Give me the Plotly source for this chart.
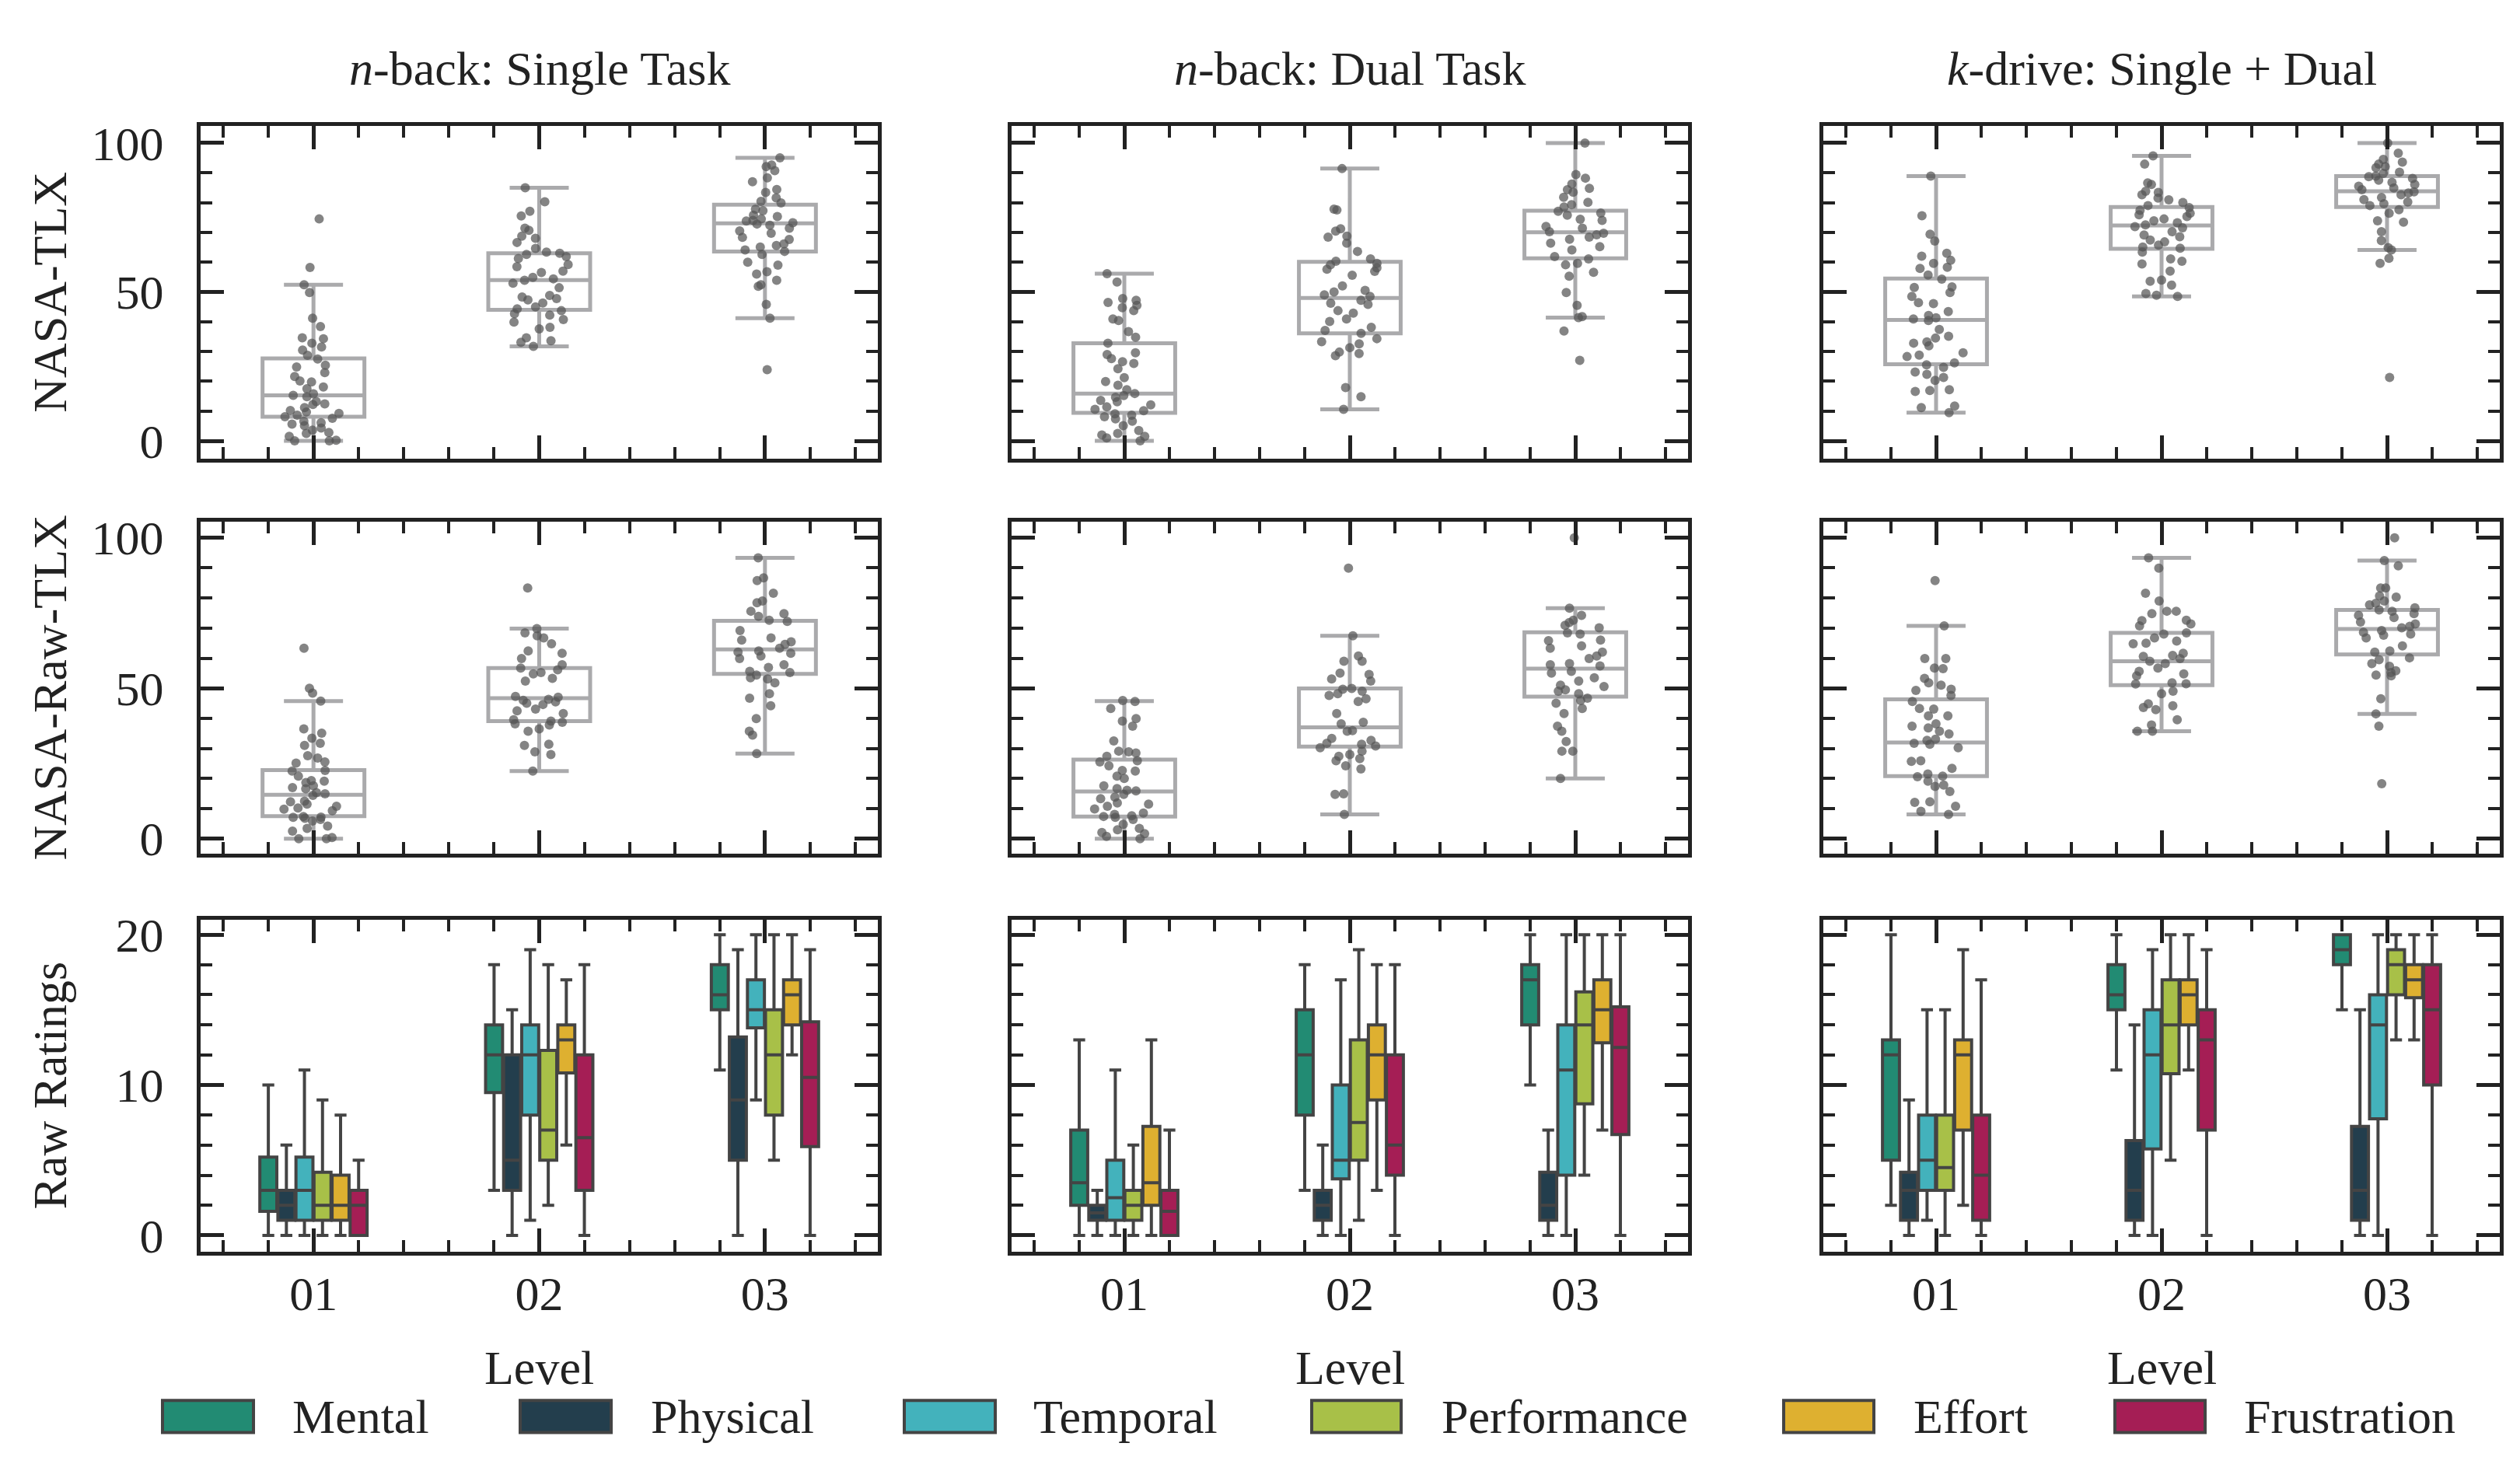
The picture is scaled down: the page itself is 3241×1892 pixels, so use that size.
import plotly.graph_objects as go

# ---------------- data ----------------
levels = [0, 1, 2]
level_labels = ["01", "02", "03"]
col_titles = ["<i>n</i>-back: Single Task", "<i>n</i>-back: Dual Task", "<i>k</i>-drive: Single + Dual"]
row_titles = ["NASA-TLX", "NASA-Raw-TLX", "Raw Ratings"]
dims = ["Mental", "Physical", "Temporal", "Performance", "Effort", "Frustration"]
dim_colors = ["#228B73", "#233E4D", "#43B2BC", "#A8C048", "#DEB030", "#A51E55"]

# box stats per level: [lower whisker, q1, median, q3, upper whisker]
tlx_single_stats = [[0, 8.1, 15.3, 27.7, 52.4], [31.7, 44.0, 54.0, 63.0, 85.0], [41.2, 63.6, 73.0, 79.3, 95.0]]
tlx_dual_stats = [[0, 9.4, 15.9, 32.8, 56.1], [10.6, 36.1, 48.0, 60.1, 91.4], [41.4, 61.3, 70.0, 77.3, 100.0]]
tlx_drive_stats = [[9.5, 25.7, 40.6, 54.5, 88.9], [48.5, 64.5, 72.3, 78.5, 95.7], [64.1, 78.5, 83.8, 88.9, 100.0]]
raw_single_stats = [[0, 7.5, 14.6, 22.8, 45.7], [22.5, 39.1, 46.7, 56.7, 69.8], [28.3, 54.8, 62.9, 72.4, 93.3]]
raw_dual_stats = [[0, 7.4, 15.7, 26.3, 45.7], [8.1, 30.6, 37.0, 49.9, 67.4], [20.0, 47.2, 56.5, 68.6, 76.6]]
raw_drive_stats = [[8.1, 20.8, 32.0, 46.3, 70.7], [35.7, 51.0, 59.0, 68.4, 93.3], [41.5, 61.2, 69.7, 76.0, 92.4]]

# individual participant scores
tlx_single_01 = [74.5, 58.2, 52.4, 49.8, 41.2, 38.4, 34.6, 34.3, 32.8, 31.5, 30.5, 28.7, 27.5, 25.4, 24.8, 22.9, 21.6, 20.1, 19.8, 18.1, 17.5, 15.8, 15.3, 14.8, 13.2, 12.4, 12.2, 11.2, 10.2, 9.7, 9.2, 8.6, 8.1, 7.6, 6.6, 6.1, 5.6, 5.1, 4.3, 3.6, 2.8, 2.5, 1.5, 0.2, 0.0, 0.0]
tlx_single_02 = [85.0, 80.3, 77.1, 75.5, 71.4, 70.7, 68.7, 68.0, 66.6, 64.6, 63.4, 63.0, 62.6, 61.9, 61.2, 59.2, 58.5, 57.0, 56.5, 54.9, 54.4, 53.9, 52.9, 51.4, 48.8, 48.3, 47.8, 47.3, 46.3, 45.0, 44.3, 43.7, 42.7, 42.2, 40.7, 39.9, 38.1, 37.6, 34.6, 33.6, 33.1, 31.7]
tlx_single_03 = [95.0, 92.6, 92.1, 90.7, 88.3, 87.0, 84.4, 83.4, 81.6, 80.4, 79.9, 77.8, 77.3, 75.8, 75.3, 74.5, 74.0, 73.8, 73.2, 72.8, 72.4, 71.4, 70.5, 69.7, 68.3, 67.6, 66.1, 65.6, 65.1, 64.1, 63.6, 62.6, 60.0, 59.0, 56.8, 56.0, 53.9, 52.4, 51.9, 45.8, 41.2, 23.9]
tlx_dual_01 = [56.1, 53.3, 47.8, 47.2, 46.5, 45.5, 44.7, 43.7, 40.9, 40.4, 36.7, 34.8, 32.8, 29.6, 29.0, 27.6, 26.6, 26.0, 24.2, 21.2, 19.9, 18.7, 17.2, 15.9, 15.2, 14.6, 13.6, 13.1, 12.1, 11.4, 10.6, 10.1, 9.1, 8.6, 8.1, 7.4, 6.6, 5.1, 3.5, 2.5, 2.0, 1.5, 1.0, 0.0]
tlx_dual_02 = [91.4, 77.8, 77.5, 71.2, 70.4, 68.7, 68.4, 66.4, 63.6, 61.1, 60.3, 59.6, 59.1, 58.1, 57.6, 56.9, 55.6, 52.0, 50.5, 50.0, 49.0, 48.5, 47.2, 46.2, 45.8, 43.7, 42.9, 40.9, 40.1, 38.1, 37.1, 36.1, 34.3, 33.3, 32.6, 31.3, 29.8, 29.3, 28.6, 17.9, 14.8, 10.6]
tlx_dual_03 = [100.0, 89.4, 88.2, 86.2, 84.8, 84.3, 83.5, 81.8, 80.1, 79.3, 78.5, 77.1, 76.5, 75.8, 74.4, 74.0, 72.0, 71.4, 70.2, 69.7, 69.2, 68.4, 67.7, 66.4, 65.2, 64.1, 61.9, 61.1, 59.6, 59.1, 56.6, 55.3, 49.8, 45.5, 41.7, 41.4, 36.9, 27.0]
tlx_drive_01 = [88.9, 75.6, 69.4, 67.1, 63.0, 62.0, 60.6, 59.6, 58.3, 57.9, 55.7, 54.3, 51.7, 51.5, 49.8, 48.5, 46.4, 46.1, 43.4, 42.1, 41.3, 40.9, 40.4, 37.4, 35.1, 34.5, 33.2, 32.8, 31.9, 29.6, 28.8, 28.3, 26.2, 25.5, 24.7, 23.1, 22.3, 21.3, 20.3, 17.2, 16.9, 16.6, 11.7, 11.2, 9.5]
tlx_drive_02 = [95.7, 92.9, 86.6, 86.1, 83.8, 83.4, 82.6, 81.5, 80.9, 80.0, 79.0, 78.3, 77.4, 76.4, 75.9, 75.3, 74.5, 73.9, 73.2, 72.5, 71.9, 71.5, 70.2, 69.1, 68.5, 67.4, 66.8, 65.7, 65.1, 64.7, 63.4, 61.1, 60.3, 59.4, 57.0, 54.0, 53.6, 52.3, 49.5, 48.9, 48.5]
tlx_drive_03 = [100.0, 96.6, 94.5, 93.6, 92.9, 92.1, 91.7, 90.2, 89.8, 88.9, 88.7, 88.1, 87.5, 86.8, 86.1, 85.5, 84.9, 84.3, 83.6, 83.2, 82.6, 81.7, 81.0, 80.2, 79.6, 79.0, 77.6, 76.4, 73.9, 73.4, 70.2, 67.2, 64.9, 64.1, 61.3, 59.6, 21.3]
raw_single_01 = [63.3, 50.0, 48.4, 45.7, 36.5, 35.1, 33.4, 31.7, 31.0, 27.6, 26.8, 25.5, 25.1, 22.7, 22.5, 20.8, 19.3, 19.1, 18.7, 17.6, 17.0, 16.6, 15.3, 14.9, 14.4, 12.5, 12.3, 11.5, 10.8, 10.2, 9.8, 9.3, 7.4, 7.2, 7.1, 6.8, 6.4, 5.9, 4.2, 3.4, 2.5, 0.4, 0.0, 0.0]
raw_single_02 = [83.3, 69.8, 68.4, 67.4, 66.7, 64.8, 62.4, 61.6, 59.9, 57.8, 56.7, 56.1, 55.2, 54.8, 53.3, 52.4, 47.3, 47.0, 46.3, 46.0, 45.5, 45.0, 44.6, 43.1, 42.5, 41.6, 39.5, 39.1, 38.7, 38.2, 37.8, 36.5, 35.7, 31.4, 31.0, 28.9, 28.0, 22.5]
raw_single_03 = [93.3, 86.7, 85.8, 81.6, 79.0, 78.4, 75.6, 74.8, 73.9, 72.6, 72.2, 69.2, 66.7, 66.0, 65.4, 64.6, 63.3, 62.4, 62.0, 61.6, 60.7, 59.9, 57.8, 56.9, 55.6, 55.2, 54.4, 53.5, 53.1, 51.8, 48.2, 46.7, 44.2, 39.9, 35.7, 34.4, 28.3]
raw_dual_01 = [45.9, 45.6, 43.3, 39.9, 39.1, 37.4, 32.5, 29.1, 28.9, 28.5, 27.4, 25.9, 25.5, 24.2, 22.7, 22.5, 20.8, 20.0, 17.6, 16.7, 16.1, 15.9, 14.7, 13.8, 13.3, 11.9, 11.5, 10.8, 9.9, 8.5, 8.1, 7.6, 7.4, 7.1, 6.4, 4.8, 3.4, 3.0, 2.1, 1.7, 0.8, 0.0]
raw_dual_02 = [89.9, 67.4, 60.7, 59.0, 59.0, 55.0, 54.6, 53.1, 52.4, 49.9, 49.7, 49.0, 48.2, 47.6, 46.5, 45.6, 41.6, 38.7, 38.2, 35.9, 35.7, 33.3, 32.7, 31.7, 31.4, 30.8, 30.2, 29.1, 28.0, 27.4, 26.6, 25.9, 24.2, 23.2, 14.9, 14.7, 8.1]
raw_dual_03 = [100.0, 76.6, 74.2, 72.6, 71.8, 70.9, 70.1, 68.4, 68.0, 66.0, 65.8, 64.1, 63.3, 62.0, 60.7, 59.9, 58.2, 57.8, 57.4, 55.6, 55.0, 53.5, 52.4, 51.0, 50.6, 49.5, 49.0, 48.2, 46.7, 45.9, 45.0, 43.3, 41.6, 37.4, 35.7, 32.3, 29.1, 29.1, 20.0]
raw_drive_01 = [85.8, 70.7, 59.9, 59.9, 56.7, 56.5, 53.3, 51.8, 51.0, 49.7, 49.3, 47.6, 45.6, 43.3, 43.1, 40.8, 40.8, 38.2, 37.4, 36.8, 35.7, 34.8, 33.1, 32.7, 31.7, 31.4, 30.2, 25.9, 25.7, 23.4, 21.5, 20.8, 20.6, 19.1, 17.8, 17.4, 15.7, 12.3, 12.1, 10.8, 9.1, 8.1]
raw_drive_02 = [93.3, 89.9, 81.6, 79.0, 75.6, 75.6, 74.8, 72.6, 72.5, 71.4, 70.7, 68.4, 68.0, 66.7, 65.7, 65.0, 64.8, 61.6, 60.9, 60.6, 59.9, 59.0, 58.2, 56.7, 55.6, 54.8, 54.1, 51.8, 51.5, 51.4, 49.0, 48.2, 44.8, 44.2, 43.6, 42.9, 39.5, 37.8, 35.7, 35.7]
raw_drive_03 = [100.0, 92.4, 90.7, 83.3, 83.3, 80.7, 80.3, 79.0, 78.2, 77.7, 76.7, 76.0, 75.6, 74.8, 74.2, 73.5, 72.0, 71.4, 70.6, 70.1, 69.2, 68.6, 68.0, 67.6, 66.7, 64.1, 62.4, 62.0, 60.1, 59.5, 58.2, 57.3, 55.8, 55.2, 54.4, 54.1, 46.5, 41.5, 37.4, 18.3]

# raw ratings box stats per dimension, per level: [lower whisker, q1, median, q3, upper whisker]
single_mental = [[0, 1.6, 3, 5.2, 10], [3, 9.5, 12, 14, 18], [11, 15, 16, 18, 20]]
single_physical = [[0, 1, 2, 3, 6], [0, 3, 5, 12, 15], [0, 5, 9, 13.2, 19]]
single_temporal = [[0, 1, 3, 5.2, 11], [1, 8, 12, 14, 19], [9, 13.8, 15, 17, 20]]
single_performance = [[0, 1, 2, 4.2, 9], [2, 5, 7, 12.3, 18], [5, 8, 12, 15, 20]]
single_effort = [[0, 1, 2, 4, 8], [6, 10.8, 13, 14, 17], [12, 14, 16, 17, 20]]
single_frustration = [[0, 0, 2, 3, 5], [0, 3, 6.5, 12, 18], [0, 5.9, 10.5, 14.2, 19]]
dual_mental = [[0, 2, 3.5, 7, 13], [3, 8, 12, 15, 18], [10, 14, 17, 18, 20]]
dual_physical = [[0, 1, 1.5, 2, 3], [0, 1, 2, 3, 6], [0, 1, 2, 4.2, 7]]
dual_temporal = [[0, 1, 2.5, 5, 11], [0, 3.75, 5, 10, 17], [0, 4, 11, 14, 20]]
dual_performance = [[0, 1, 2, 3, 6], [1, 5, 7.5, 13, 19], [4, 8.75, 14, 16.2, 20]]
dual_effort = [[0, 2, 3.5, 7.25, 13], [3, 9, 12, 14, 18], [7, 12.8, 15, 17, 20]]
dual_frustration = [[0, 0, 1.6, 3, 7], [0, 4, 6, 12, 18], [0, 6.7, 12.5, 15.2, 20]]
drive_mental = [[2, 5, 12, 13, 20], [11, 15, 16, 18, 20], [15, 18, 19, 20, 20]]
drive_physical = [[0, 1, 3, 4.2, 9], [0, 1, 3, 6.3, 14], [0, 1, 3, 7.25, 15]]
drive_temporal = [[1, 3, 5, 8, 15], [0, 5.75, 12, 15, 19], [0, 7.75, 14, 16, 20]]
drive_performance = [[0, 3, 4.5, 8, 15], [5, 10.75, 14, 17, 20], [13, 16, 18, 19, 20]]
drive_effort = [[2, 7, 12, 13, 19], [11, 14, 16, 17, 20], [13, 15.8, 17, 18, 20]]
drive_frustration = [[0, 1, 4, 8, 17], [0, 7, 13, 15, 19], [0, 10, 15, 18, 20]]

# ---------------- figure ----------------
W, H = 3241, 1892
col_px = [(258, 1129), (1301, 2171), (2345, 3215)]
row_px = [(150, 585), (667, 1101), (1187, 1621)]
y_ranges = [[-6.0, 105.8], [-5.0, 105.4], [-1.1, 21.0]]
y_ticks = [[0, 50, 100], [0, 50, 100], [0, 10, 20]]
y_minor = [10, 10, 2]

INK = "#222222"
BOXGRAY = "#AAAAAC"
DOT = "rgba(85,85,85,0.72)"
EDGE = "#444444"
FONT = "Liberation Serif"
FS = 62

fig = go.Figure()

top_stats = [[tlx_single_stats, tlx_dual_stats, tlx_drive_stats],
             [raw_single_stats, raw_dual_stats, raw_drive_stats]]
top_points = [[[tlx_single_01, tlx_single_02, tlx_single_03],
               [tlx_dual_01, tlx_dual_02, tlx_dual_03],
               [tlx_drive_01, tlx_drive_02, tlx_drive_03]],
              [[raw_single_01, raw_single_02, raw_single_03],
               [raw_dual_01, raw_dual_02, raw_dual_03],
               [raw_drive_01, raw_drive_02, raw_drive_03]]]
bottom_stats = [
    [single_mental, single_physical, single_temporal, single_performance, single_effort, single_frustration],
    [dual_mental, dual_physical, dual_temporal, dual_performance, dual_effort, dual_frustration],
    [drive_mental, drive_physical, drive_temporal, drive_performance, drive_effort, drive_frustration],
]


def axis_names(r, c):
    k = r * 3 + c + 1
    s = "" if k == 1 else str(k)
    return "x" + s, "y" + s, "xaxis" + s, "yaxis" + s


for r in range(2):
    for c in range(3):
        xa, ya, _, _ = axis_names(r, c)
        st = top_stats[r][c]
        fig.add_trace(go.Box(
            x=levels, lowerfence=[s[0] for s in st], q1=[s[1] for s in st],
            median=[s[2] for s in st], q3=[s[3] for s in st], upperfence=[s[4] for s in st],
            boxpoints=False, line=dict(color=BOXGRAY, width=5), fillcolor="rgba(0,0,0,0)",
            whiskerwidth=0.58, offsetgroup="g", xaxis=xa, yaxis=ya, showlegend=False,
            hoverinfo="skip"))
        pts = top_points[r][c]
        xs = [lv for lv, vals in zip(levels, pts) for _ in vals]
        ys = [v for vals in pts for v in vals]
        fig.add_trace(go.Box(
            x=xs, y=ys, boxpoints="all", jitter=0.6, pointpos=0,
            marker=dict(color=DOT, size=12, line=dict(width=0)),
            line=dict(width=0, color="rgba(0,0,0,0)"), fillcolor="rgba(0,0,0,0)",
            offsetgroup="g", xaxis=xa, yaxis=ya, showlegend=False, hoverinfo="skip"))

for c in range(3):
    xa, ya, _, _ = axis_names(2, c)
    for name, color, st in zip(dims, dim_colors, bottom_stats[c]):
        fig.add_trace(go.Box(
            x=levels, lowerfence=[s[0] for s in st], q1=[s[1] for s in st],
            median=[s[2] for s in st], q3=[s[3] for s in st], upperfence=[s[4] for s in st],
            name=name, boxpoints=False, fillcolor=color, line=dict(color=EDGE, width=4),
            whiskerwidth=0.7, offsetgroup=name, xaxis=xa, yaxis=ya, showlegend=False,
            hoverinfo="skip"))

tickfont = dict(family=FONT, size=FS, color=INK)
layout = dict(
    width=W, height=H, margin=dict(l=0, r=0, t=0, b=0),
    paper_bgcolor="white", plot_bgcolor="white",
    boxmode="group", boxgap=0.52, boxgroupgap=0.06,
    font=dict(family=FONT, size=FS, color=INK), showlegend=False,
)

for r in range(3):
    for c in range(3):
        xa, ya, xkey, ykey = axis_names(r, c)
        x0, x1 = col_px[c]
        y0, y1 = row_px[r]
        layout[xkey] = dict(
            domain=[x0 / W, x1 / W], anchor=ya, range=[-0.5, 2.5],
            tickmode="array", tickvals=levels, ticktext=level_labels,
            showticklabels=(r == 2), ticks="inside", ticklen=30, tickwidth=5, tickcolor=INK,
            ticklabelstandoff=-5, tickfont=tickfont,
            showline=True, linewidth=5, linecolor=INK, mirror="ticks",
            showgrid=False, zeroline=False,
            minor=dict(tickmode="linear", tick0=0, dtick=0.2, ticks="inside",
                       ticklen=15, tickwidth=4, tickcolor=INK, showgrid=False),
        )
        layout[ykey] = dict(
            domain=[1 - y1 / H, 1 - y0 / H], anchor=xa, range=y_ranges[r],
            tickmode="array", tickvals=y_ticks[r], ticktext=[str(t) for t in y_ticks[r]],
            showticklabels=(c == 0), ticks="inside", ticklen=30, tickwidth=5, tickcolor=INK,
            ticklabelstandoff=30, tickfont=tickfont,
            showline=True, linewidth=5, linecolor=INK, mirror="ticks",
            showgrid=False, zeroline=False,
            minor=dict(tickmode="linear", tick0=0, dtick=y_minor[r], ticks="inside",
                       ticklen=15, tickwidth=4, tickcolor=INK, showgrid=False),
        )

annotations = []
shapes = []
for c in range(3):
    cx = (col_px[c][0] + col_px[c][1]) / 2 / W
    annotations.append(dict(text=col_titles[c], x=cx, y=1 - 75 / H, xref="paper", yref="paper",
                            xanchor="center", yanchor="middle", showarrow=False))
    annotations.append(dict(text="Level", x=cx, y=1 - 1772 / H, xref="paper", yref="paper",
                            xanchor="center", yanchor="middle", showarrow=False))
for r in range(3):
    cy = (row_px[r][0] + row_px[r][1]) / 2
    annotations.append(dict(text=row_titles[r], x=64 / W, y=1 - cy / H, xref="paper", yref="paper",
                            xanchor="center", yanchor="middle", textangle=-90, showarrow=False))

patch_px = [(209, 326), (669, 786), (1163, 1280), (1687, 1802), (2294, 2410), (2720, 2836)]
label_px = [374, 835, 1327, 1852, 2459, 2884]
for name, color, (p0, p1), lx in zip(dims, dim_colors, patch_px, label_px):
    shapes.append(dict(type="rect", xref="paper", yref="paper", x0=p0 / W, x1=p1 / W,
                       y0=1 - 1857 / H, y1=1 - 1815 / H, fillcolor=color,
                       line=dict(color=EDGE, width=4)))
    annotations.append(dict(text=name, x=lx / W, y=1 - 1836 / H, xref="paper", yref="paper",
                            xanchor="left", yanchor="middle", showarrow=False))

layout["annotations"] = annotations
layout["shapes"] = shapes
fig.update_layout(**layout)

fig.write_html("out.html", config={"displayModeBar": False},
               post_script="document.body.style.margin='0px';")
